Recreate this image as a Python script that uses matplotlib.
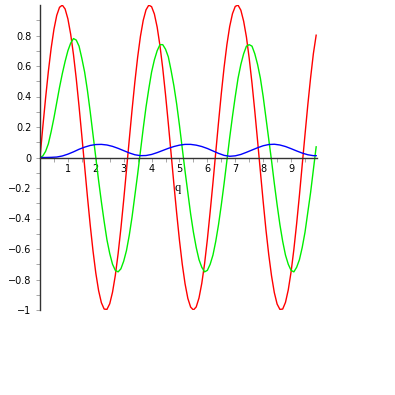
import matplotlib.pyplot as plt
import numpy as np

# values
# red and green at q step 0.1, blue at q step 0.2
q = [round(0.1 * i, 1) for i in range(100)]

red = [0.0, 0.199, 0.389, 0.565, 0.717, 0.841, 0.932, 0.985, 0.999, 0.974,
       0.909, 0.808, 0.675, 0.516, 0.335, 0.141, -0.058, -0.256, -0.443, -0.612,
       -0.757, -0.872, -0.952, -0.994, -0.996, -0.959, -0.883, -0.773, -0.631, -0.465,
       -0.279, -0.083, 0.117, 0.312, 0.494, 0.657, 0.794, 0.899, 0.968, 0.999,
       0.989, 0.941, 0.855, 0.734, 0.585, 0.412, 0.223, 0.025, -0.175, -0.366,
       -0.544, -0.700, -0.828, -0.924, -0.981, -1.000, -0.980, -0.921, -0.825, -0.696,
       -0.537, -0.356, -0.166, 0.033, 0.231, 0.420, 0.592, 0.740, 0.859, 0.943,
       0.991, 0.999, 0.966, 0.894, 0.790, 0.650, 0.487, 0.304, 0.109, -0.091,
       -0.288, -0.474, -0.637, -0.776, -0.886, -0.961, -0.996, -0.994, -0.950, -0.868,
       -0.751, -0.604, -0.434, -0.248, -0.048, 0.150, 0.344, 0.522, 0.681, 0.802]

green = [0.0, 0.01, 0.04, 0.09, 0.17, 0.26, 0.36, 0.46, 0.55, 0.63,
         0.70, 0.75, 0.78, 0.77, 0.73, 0.65, 0.56, 0.44, 0.30, 0.15,
         0.00, -0.15, -0.29, -0.42, -0.54, -0.63, -0.70, -0.74, -0.75, -0.73,
         -0.68, -0.61, -0.51, -0.39, -0.25, -0.11, 0.04, 0.19, 0.33, 0.45,
         0.56, 0.64, 0.70, 0.74, 0.74, 0.71, 0.66, 0.57, 0.47, 0.35,
         0.21, 0.06, -0.09, -0.23, -0.37, -0.49, -0.59, -0.67, -0.72, -0.75,
         -0.74, -0.70, -0.64, -0.55, -0.44, -0.31, -0.17, -0.02, 0.13, 0.27,
         0.40, 0.52, 0.61, 0.68, 0.73, 0.74, 0.73, 0.68, 0.61, 0.52,
         0.40, 0.26, 0.12, -0.02, -0.17, -0.31, -0.44, -0.55, -0.64, -0.70,
         -0.74, -0.75, -0.72, -0.67, -0.59, -0.49, -0.36, -0.23, -0.08, 0.07]

q_blue = [round(0.2 * i, 1) for i in range(50)] + [9.9]
blue = [0.0, 0.0, 0.001, 0.003, 0.010, 0.022, 0.037, 0.054, 0.068, 0.079,
        0.085, 0.086, 0.082, 0.073, 0.060, 0.045, 0.030, 0.018, 0.012, 0.013,
        0.020, 0.032, 0.046, 0.060, 0.072, 0.081, 0.086, 0.086, 0.081, 0.072,
        0.059, 0.043, 0.027, 0.014, 0.008, 0.011, 0.020, 0.034, 0.049, 0.064,
        0.077, 0.085, 0.087, 0.082, 0.072, 0.058, 0.043, 0.029, 0.018, 0.012, 0.012]

fig = plt.figure(figsize=(3.95, 3.95), dpi=100)
ax = fig.add_axes([40/395, 85/395, 277/395, 305/395])

ax.plot(q, red, color='#ff0000', lw=1.0)
ax.plot(q, green, color='#00ee00', lw=1.0)
ax.plot(q_blue, blue, color='#0000ff', lw=1.0)

ax.set_xlim(0, 9.93)
ax.set_ylim(-1, 1.0)

# Maple style axes through the origin
ax.spines['top'].set_visible(False)
ax.spines['right'].set_visible(False)
ax.spines['bottom'].set_position(('data', 0))
for s in ['left', 'bottom']:
    ax.spines[s].set_color('#333333')
    ax.spines[s].set_linewidth(1.0)

ax.set_xticks(range(1, 10))
ax.set_xticks(np.arange(0.5, 10, 0.5), minor=True)
ax.set_yticks([-1, -0.8, -0.6, -0.4, -0.2, 0, 0.2, 0.4, 0.6, 0.8])
ax.set_yticklabels(['\u22121', '\u22120.8', '\u22120.6', '\u22120.4', '\u22120.2',
                    '0', '0.2', '0.4', '0.6', '0.8'])
ax.set_yticks(np.arange(-0.9, 1.0, 0.2), minor=True)
ax.tick_params(which='both', direction='out', length=3, width=0.6,
               color='#999999', labelsize=7)
ax.tick_params(axis='x', pad=2)
ax.tick_params(axis='y', pad=3)

ax.set_xlabel('q', family='Liberation Serif', fontsize=9)
ax.xaxis.set_label_coords(0.498, 0.42)

fig.savefig('out.png', dpi=100)
